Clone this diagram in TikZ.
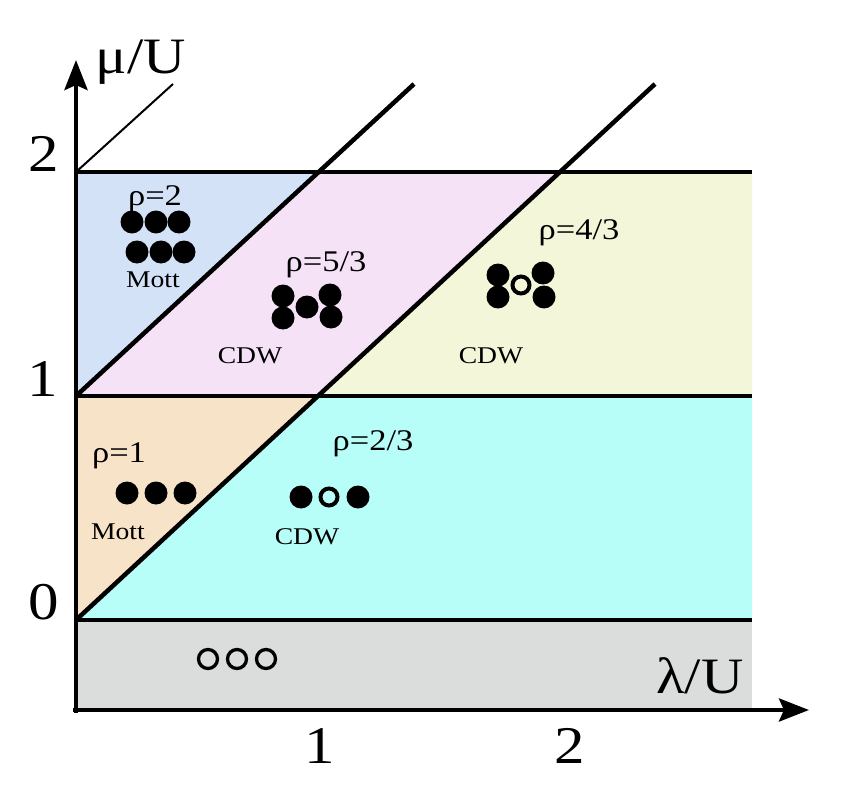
\documentclass[tikz,border=0pt]{standalone}
\usepackage{fontspec}
\setmainfont{Liberation Serif}
\usetikzlibrary{arrows.meta}
\definecolor{cblue}{RGB}{212,226,247}
\definecolor{cpink}{RGB}{245,226,247}
\definecolor{cyellow}{RGB}{243,246,216}
\definecolor{cpeach}{RGB}{247,227,200}
\definecolor{ccyan}{RGB}{183,253,248}
\definecolor{cgray}{RGB}{219,221,221}
\newcommand{\hs}[1]{\scalebox{1.15}[1]{#1}}
\begin{document}
\begin{tikzpicture}[x=1pt,y=-1pt,
  rholbl/.style={anchor=base,inner sep=0pt,font=\fontsize{30}{36}\selectfont},
  namelbl/.style={anchor=base,inner sep=0pt,font=\fontsize{24}{28}\selectfont},
  ticklbl/.style={anchor=base,inner sep=0pt,font=\fontsize{53}{60}\selectfont},
  axlbl/.style={anchor=base,inner sep=0pt,font=\fontsize{51}{58}\selectfont},
  bound/.style={line width=4.5pt},
  thinbound/.style={line width=2pt},
  axisline/.style={line width=4.5pt,-{Stealth[length=30pt,width=23pt,inset=5pt]}},
  fulldot/.style={fill=black},
  emptydot/.style={draw=black,line width=4pt},
  vacdot/.style={draw=black,line width=3.3pt}]
\useasboundingbox (0,0) rectangle (852,789);
% region corners
\coordinate (O0) at (76,620);
\coordinate (O1) at (76,396);
\coordinate (O2) at (76,172);
\coordinate (A1) at (318,396);
\coordinate (A2) at (318,172);
\coordinate (B2) at (560,172);
\coordinate (R0) at (752,620);
\coordinate (R1) at (752,396);
\coordinate (R2) at (752,172);
\coordinate (Rb) at (752,710);
\coordinate (Ob) at (76,710);
% fills
\fill[cgray] (O0) rectangle (Rb);
\fill[ccyan] (O0) -- (A1) -- (R1) -- (R0) -- cycle;
\fill[cpeach] (O0) -- (A1) -- (O1) -- cycle;
\fill[cyellow] (A1) -- (B2) -- (R2) -- (R1) -- cycle;
\fill[cpink] (O1) -- (A2) -- (B2) -- (A1) -- cycle;
\fill[cblue] (O1) -- (A2) -- (O2) -- cycle;
% boundaries
\coordinate (T1) at (173,84);
\coordinate (T2) at (414,84);
\coordinate (T3) at (655,84);
\draw[bound] (O2) -- (R2);
\draw[bound] (O1) -- (R1);
\draw[bound] (O0) -- (R0);
\draw[bound] (O0) -- (T3);
\draw[bound] (O1) -- (T2);
\draw[thinbound] (O2) -- (T1);
% axes
\coordinate (Ys) at (76,713);
\coordinate (Ye) at (76,60);
\coordinate (Xs) at (73,710);
\coordinate (Xe) at (809,710);
\draw[axisline] (Ys) -- (Ye);
\draw[axisline] (Xs) -- (Xe);
% axis labels
\node[axlbl] (mu) at (141,74) {\hs{μ/U}};
\node[axlbl] (lam) at (700,693) {\hs{λ/U}};
\node[ticklbl] (y2) at (44,172) {\hs{2}};
\node[ticklbl] (y1) at (43,396) {\hs{1}};
\node[ticklbl] (y0) at (44,619) {\hs{0}};
\node[ticklbl] (x1) at (320,763) {\hs{1}};
\node[ticklbl] (x2) at (570,763) {\hs{2}};
% rho = 2
\node[rholbl] (r2) at (155,205) {\hs{ρ=2}};
\foreach \x in {132,156,179} \fill[fulldot] (\x,222) circle (11.5);
\foreach \x in {137,161,184} \fill[fulldot] (\x,252) circle (11.5);
\node[namelbl] (m2) at (153,287) {\hs{Mott}};
% rho = 5/3
\node[rholbl] (r53) at (326,271) {\hs{ρ=5/3}};
\fill[fulldot] (283,296) circle (11.5);
\fill[fulldot] (283,318) circle (11.5);
\fill[fulldot] (307,307) circle (11.5);
\fill[fulldot] (330,295) circle (11.5);
\fill[fulldot] (331,317) circle (11.5);
\node[namelbl] (c53) at (250,363) {\hs{CDW}};
% rho = 4/3
\node[rholbl] (r43) at (579,240) {\hs{ρ=4/3}};
\fill[fulldot] (498,275) circle (11.5);
\fill[fulldot] (498,297) circle (11.5);
\fill[fulldot] (543,273) circle (11.5);
\fill[fulldot] (544,297) circle (11.5);
\draw[emptydot] (521,285) circle (8.5);
\node[namelbl] (c43) at (491,363) {\hs{CDW}};
% rho = 1
\node[rholbl] (r1) at (119,462) {\hs{ρ=1}};
\foreach \x in {127,156,185} \fill[fulldot] (\x,493) circle (11.5);
\node[namelbl] (m1) at (118,539) {\hs{Mott}};
% rho = 2/3
\node[rholbl] (r23) at (373,450) {\hs{ρ=2/3}};
\fill[fulldot] (301,497) circle (11.5);
\draw[emptydot] (329,497) circle (8.5);
\fill[fulldot] (358,497) circle (11.5);
\node[namelbl] (c23) at (307,544) {\hs{CDW}};
% vacuum
\foreach \x in {208,237,266} \draw[vacdot] (\x,659) circle (9.5);
\end{tikzpicture}
\end{document}
